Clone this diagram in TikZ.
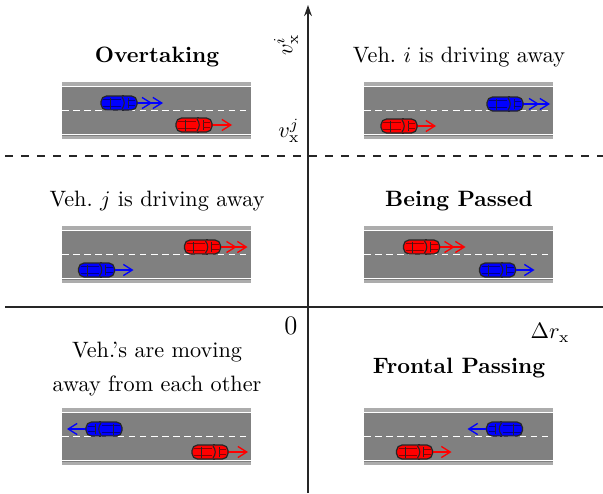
\documentclass[tikz,border=0pt]{standalone}
\usetikzlibrary{arrows.meta}
\begin{document}
\begin{tikzpicture}[x=0.45pt,y=-0.45pt,
  axis/.style={line width=0.6pt,black!85},
  axlabel/.style={inner sep=0.5pt},
  title/.style={font=\bfseries,anchor=center},
  caption/.style={anchor=center},
  one/.style={-{Straight Barb[length=4pt,width=5pt]}},
  two/.style={-{Straight Barb[length=4pt,width=5pt]Straight Barb[length=4pt,width=5pt]}},
  pics/road/.style={code={
    \fill[gray!65] (0,0) rectangle (189,57);
    \fill[gray] (0,3.5) rectangle (189,53.5);
    \draw[white,line width=0.7pt] (0,4.5) -- (189,4.5) (0,52.5) -- (189,52.5);
    \draw[white,line width=0.7pt,dash pattern=on 3pt off 2pt] (0,28.5) -- (189,28.5);
  }},
  pics/car/.style n args={3}{code={
    \draw[#1,line width=0.6pt,#3] (14,0) -- (18+#2,0);
    \fill[black!85] (3,-8) rectangle (5,8);
    \draw[black!85,line width=0.55pt,fill=#1,rounded corners=2.5pt] (-18,-7) rectangle (18,7);
    \draw[#1!55!black,line width=0.35pt] (-16,-3.5) -- (2,-3.5) (-16,3.5) -- (2,3.5);
    \draw[black!85,line width=0.4pt] (-9,-5.5) -- (-9,5.5);
    \draw[black!85,line width=0.5pt] (3,-6) .. controls (6,-2) and (6,2) .. (3,6);
    \draw[black!85,line width=0.3pt] (9,-5) -- (9,5);
    \draw[#1!55!black,line width=0.3pt] (9,-2.5) -- (16,-2.5) (9,2.5) -- (16,2.5);
  }}
]
\useasboundingbox (0,0) rectangle (603,493);

% axes
\draw[axis,dash pattern=on 3.6pt off 3.6pt] (5,156) -- (603,156);
\draw[axis] (5,307) -- (603,307);
\draw[axis,-{Stealth[length=5pt,width=3.5pt]}] (308,493) -- (308,5);
\node[axlabel,rotate=90] (vi) at (286,45) {$v_{\mathrm{x}}^{i}$};
\node[axlabel] (vj) at (289,131) {$v_{\mathrm{x}}^{j}$};
\node[axlabel,font=\large] (zero) at (291,326) {$0$};
\node[axlabel] (dr) at (550,333) {$\Delta r_{\mathrm{x}}$};

% quadrant titles
\node[title] (t1) at (157,57) {Overtaking};
\node[caption] (t2) at (459,57) {Veh.\ $i$ is driving away};
\node[caption] (t3) at (157,201) {Veh.\ $j$ is driving away};
\node[title] (t4) at (459,201) {Being Passed};
\node[caption,align=center] (t5) at (157,369) {Veh.'s are moving\\[3pt]away from each other};
\node[title] (t6) at (459,368) {Frontal Passing};

% roads
\pic at (62,82) {road};
\pic at (364,82) {road};
\pic at (62,226) {road};
\pic at (364,226) {road};
\pic at (62,408) {road};
\pic at (364,408) {road};

% overtaking
\pic at (119,103) {car={blue}{26}{two}};
\pic at (194,125) {car={red}{20}{one}};
% vehicle i driving away
\pic at (399,126) {car={red}{19}{one}};
\pic at (505,104) {car={blue}{27}{two}};
% vehicle j driving away
\pic at (202.5,247) {car={red}{27}{two}};
\pic at (96.5,270) {car={blue}{19}{one}};
% being passed
\pic at (421.5,247) {car={red}{26}{two}};
\pic at (497.5,270) {car={blue}{19}{one}};
% moving away from each other
\pic[xscale=-1] at (104,429) {car={blue}{19}{one}};
\pic at (210,452) {car={red}{20}{one}};
% frontal passing
\pic[xscale=-1] at (504.5,429) {car={blue}{19}{one}};
\pic at (414.5,452) {car={red}{19}{one}};
\end{tikzpicture}
\end{document}
